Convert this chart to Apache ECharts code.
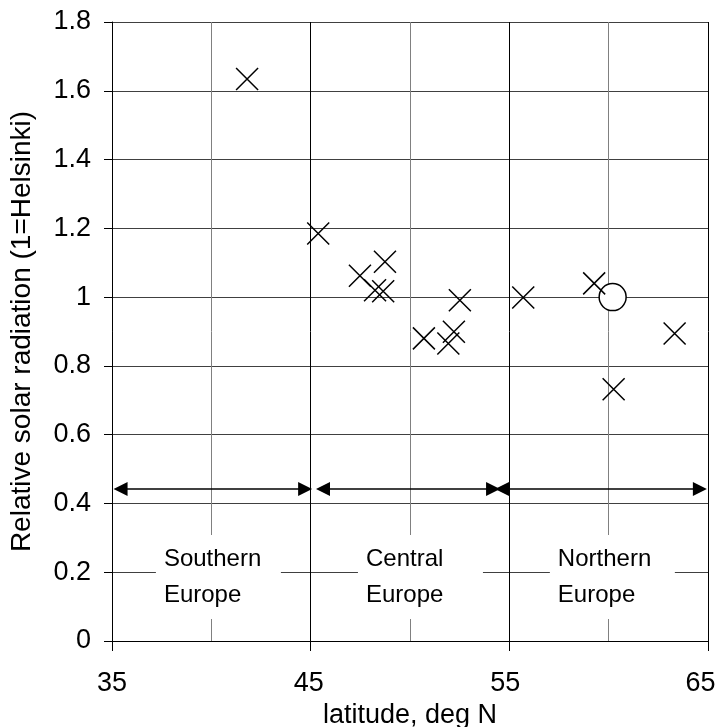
<!DOCTYPE html>
<html>
<head>
<meta charset="utf-8" />
<title>Relative solar radiation</title>
<script src="https://cdn.jsdelivr.net/npm/echarts@6/dist/echarts.min.js"></script>
<style>
  html, body { margin: 0; padding: 0; background: #fff; }
  #chart { width: 720px; height: 727px; }
</style>
</head>
<body>
<div id="chart"></div>
<script>
// latitude (deg N) and relative radiation of the cities (crosses)
var cityLat = [41.8, 45.38, 47.48, 48.24, 48.65, 48.74, 50.70, 51.93, 52.21, 52.51, 55.70, 59.27, 60.25, 63.32];
var cityRad = [1.634, 1.185, 1.062, 1.020, 1.017, 1.103, 0.880, 0.865, 0.899, 0.991, 0.999, 1.040, 0.732, 0.894];
// Helsinki reference point (circle)
var refLat = [60.2];
var refRad = [1.0];
// region arrows: start / end latitude (centre of the arrow heads), drawn at one level
var regionNames = ['Southern\nEurope', 'Central\nEurope', 'Northern\nEurope'];
var regionFrom = [35.43, 45.62, 54.63];
var regionTo = [44.72, 54.18, 64.59];
var arrowLevel = 0.442;
var regionLabelLat = [37.21, 47.38, 57.04];
var regionLabelLevel = 0.186;
var xTicks = [35, 45, 55, 65];
var xTickShift = [0, 4, 8, 15]; // labels sit a little left of their ticks

var font = "'Liberation Sans', Arial, sans-serif";
var myChart = echarts.init(document.getElementById('chart'));

var crossData = [];
for (var i = 0; i < cityLat.length; i++) crossData.push([cityLat[i], cityRad[i]]);
var refData = [];
for (var i = 0; i < refLat.length; i++) refData.push([refLat[i], refRad[i]]);
var arrowData = [];
for (var i = 0; i < regionNames.length; i++) {
    arrowData.push({coords: [[regionFrom[i], arrowLevel], [regionTo[i], arrowLevel]]});
}
var labelData = [];
for (var i = 0; i < regionNames.length; i++) {
    labelData.push({value: [regionLabelLat[i], regionLabelLevel], name: regionNames[i]});
}
var xRich = {};
for (var i = 0; i < xTicks.length; i++) {
    xRich['t' + i] = { color: '#000', fontFamily: font, fontSize: 27, padding: [0, xTickShift[i], 0, 0] };
}

var option = {
    animation: false,
    backgroundColor: '#fff',
    grid: { left: 112, right: 12, top: 22, bottom: 86, outerBoundsMode: 'none' },
    xAxis: {
        type: 'value',
        min: 35, max: 65, interval: 10,
        name: 'latitude, deg N',
        nameLocation: 'middle',
        nameGap: 60,
        nameTextStyle: { color: '#000', fontFamily: font, fontSize: 27 },
        axisLine: { show: true, onZero: false, lineStyle: { color: '#000', width: 1 } },
        axisTick: { show: true, length: 10, lineStyle: { color: '#000' } },
        axisLabel: { color: '#000', fontFamily: font, fontSize: 27, margin: 29,
            rich: xRich,
            formatter: function (v) {
                var k = xTicks.indexOf(v);
                return k >= 0 ? '{t' + k + '|' + v + '}' : '';
            } },
        splitLine: { show: true, lineStyle: { color: '#000', width: 1 } },
        minorTick: { show: false, splitNumber: 2 },
        minorSplitLine: { show: true, lineStyle: { color: '#808080', width: 1 } }
    },
    yAxis: {
        type: 'value',
        min: 0, max: 1.8, interval: 0.2,
        name: 'Relative solar radiation (1=Helsinki)',
        nameLocation: 'middle',
        nameGap: 76,
        nameTextStyle: { color: '#000', fontFamily: font, fontSize: 28 },
        axisLine: { show: true, onZero: false, lineStyle: { color: '#000', width: 1 } },
        axisTick: { show: true, length: 8, lineStyle: { color: '#000' } },
        axisLabel: { color: '#000', fontFamily: font, fontSize: 27, margin: 21 },
        splitLine: { show: true, lineStyle: { color: '#404040', width: 1 } }
    },
    series: [
        {
            type: 'lines',
            coordinateSystem: 'cartesian2d',
            symbol: ['triangle', 'triangle'],
            symbolSize: 14,
            lineStyle: { color: '#000', width: 1.5, opacity: 1 },
            data: arrowData,
            z: 3
        },
        {
            type: 'scatter',
            symbolSize: 0,
            itemStyle: { opacity: 1 },
            data: labelData,
            label: {
                show: true,
                position: 'right',
                distance: 0,
                formatter: function (p) { return p.name; },
                color: '#000',
                opacity: 1,
                fontFamily: font,
                fontSize: 24,
                lineHeight: 36,
                align: 'left',
                width: 107,
                backgroundColor: '#fff',
                padding: [6, 10, 6, 8]
            },
            z: 4
        },
        {
            type: 'scatter',
            symbol: 'circle',
            symbolSize: 27,
            itemStyle: { color: '#fff', borderColor: '#000', borderWidth: 1.5, opacity: 1 },
            data: refData,
            z: 5
        },
        {
            type: 'scatter',
            symbol: 'path://M0,0L10,10M10,0L0,10',
            symbolSize: 22,
            itemStyle: { color: 'transparent', borderColor: '#000', borderWidth: 1.5, opacity: 1 },
            data: crossData,
            z: 6
        }
    ]
};
myChart.setOption(option);
</script>
</body>
</html>
